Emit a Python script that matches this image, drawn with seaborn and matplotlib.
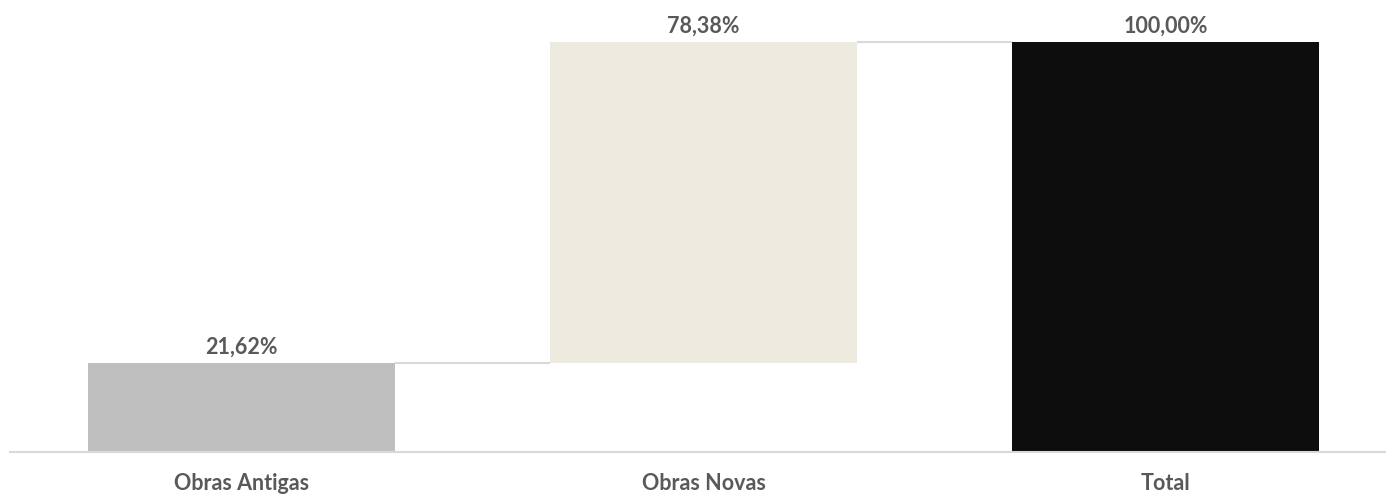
import matplotlib
matplotlib.use("Agg")
import matplotlib.pyplot as plt
import seaborn as sns
import numpy as np

categories = ["Obras Antigas", "Obras Novas", "Total"]
values = [21.62, 78.38, 100.00]
bottoms = [0.0, 21.62, 0.0]
labels = ["21,62%", "78,38%", "100,00%"]
colors = ["#BFBFBF", "#EDEBE0", "#0D0D0D"]

sns.set_theme(style="white")
plt.rcParams['font.family'] = ['Lato', 'DejaVu Sans']

fig = plt.figure(figsize=(13.86, 4.95), dpi=100)
ax = fig.add_axes([10/1386, 43/495, 1 - 10/1386, 1 - 43/495])

w = 0.665
sns.barplot(x=categories, y=values, bottom=bottoms, width=w, ax=ax,
            color="#BFBFBF", linewidth=0, saturation=1)
for p, c in zip(ax.patches, colors):
    p.set_facecolor(c)
    p.set_edgecolor("none")

tops = [b + v for b, v in zip(bottoms, values)]
for i in range(len(categories) - 1):
    ax.hlines(tops[i], i + w/2, i + 1 - w/2, color="#D9D9D9", linewidth=1.5, zorder=0)

ax.bar_label(ax.containers[0], labels=labels, padding=4, fontsize=15.5,
             fontweight="bold", color="#595959")

ax.set_xlim(-0.501, 2.477)
ax.set_ylim(0, 110.24)
ax.set_yticks([])
ax.set_ylabel("")
for s in ["top", "right", "left"]:
    ax.spines[s].set_visible(False)
ax.spines["bottom"].set_color("#D9D9D9")
ax.spines["bottom"].set_linewidth(1.5)
ax.tick_params(axis="x", length=0, pad=15, labelsize=15.5, labelcolor="#595959")
for t in ax.get_xticklabels():
    t.set_fontweight("bold")

fig.savefig("out.png", dpi=100)
